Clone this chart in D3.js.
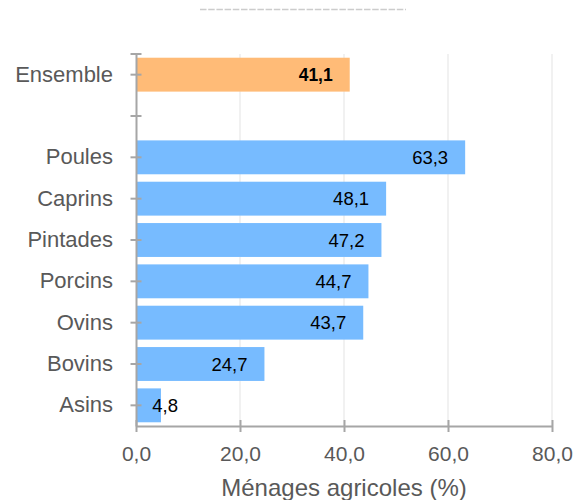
<!DOCTYPE html>
<html>
<head>
<meta charset="utf-8">
<script src="https://cdn.jsdelivr.net/npm/d3@7"></script>
<style>
  html, body { margin: 0; padding: 0; background: #fff; }
  svg { display: block; font-family: "Liberation Sans", Arial, Helvetica, sans-serif; }
</style>
</head>
<body>
<svg id="chart" width="576" height="500"></svg>
<script>
// Categories, top to bottom; the empty entry separates the total from the species.
const categories = ["Ensemble", "", "Poules", "Caprins", "Pintades", "Porcins", "Ovins", "Bovins", "Asins"];
const values = [41.1, null, 63.3, 48.1, 47.2, 44.7, 43.7, 24.7, 4.8];
const valueLabels = ["41,1", "", "63,3", "48,1", "47,2", "44,7", "43,7", "24,7", "4,8"];
const xTicks = [0, 20, 40, 60, 80];
const xTickLabels = ["0,0", "20,0", "40,0", "60,0", "80,0"];
const axisTitle = "Ménages agricoles (%)";

const svg = d3.select("#chart");
const margin = { left: 136, right: 24, top: 54, bottom: 74 };
const W = 576, H = 500;

const x = d3.scaleLinear().domain([0, 80]).range([margin.left, W - margin.right]);
const keys = categories.map((c, i) => i);
const y = d3.scaleBand().domain(keys).range([margin.top, H - margin.bottom])
  .paddingInner(0.18).paddingOuter(0.09);

const axisColor = "#a6a6a6";
const textGray = "#595959";

// Dashed rule above the plot
svg.append("line")
  .attr("x1", 200).attr("x2", 406).attr("y1", 9.5).attr("y2", 9.5)
  .attr("stroke", "#cccccc").attr("stroke-width", 1.6)
  .attr("stroke-dasharray", "6.5,1.7");

// Vertical gridlines
svg.append("g").selectAll("line")
  .data(xTicks.filter(d => d > 0))
  .join("line")
  .attr("x1", d => x(d)).attr("x2", d => x(d))
  .attr("y1", margin.top).attr("y2", H - margin.bottom)
  .attr("stroke", "#ececec").attr("stroke-width", 1.5);

// Bars
const rows = categories.map((c, i) => ({ i, c, v: values[i], label: valueLabels[i] }))
  .filter(d => d.v !== null);

svg.append("g").selectAll("rect")
  .data(rows)
  .join("rect")
  .attr("x", x(0))
  .attr("y", d => y(d.i))
  .attr("width", d => x(d.v) - x(0))
  .attr("height", y.bandwidth())
  .attr("fill", d => d.i === 0 ? "#ffbb77" : "#77bbff");

// Value labels at the end of each bar, kept clear of the axis for short bars
svg.append("g").selectAll("text")
  .data(rows)
  .join("text")
  .attr("x", d => Math.max(x(d.v) - 17, x(0) + 42))
  .attr("y", d => y(d.i) + y.bandwidth() / 2)
  .attr("dy", "0.36em")
  .attr("text-anchor", "end")
  .attr("font-size", d => d.i === 0 ? 17.5 : 18.5)
  .attr("font-weight", d => d.i === 0 ? "bold" : "normal")
  .attr("fill", "#000")
  .text(d => d.label);

// Y axis
const yAxis = d3.axisLeft(y).tickSize(0).tickSizeOuter(0).tickPadding(23)
  .tickFormat(i => categories[i]);
const gy = svg.append("g").attr("transform", `translate(${x(0)},0)`).call(yAxis);
gy.select(".domain").attr("stroke", axisColor).attr("stroke-width", 2);
gy.selectAll(".tick line").attr("x1", -5.5).attr("x2", 5.5)
  .attr("stroke", axisColor).attr("stroke-width", 2);
gy.selectAll(".tick text").attr("font-size", 22).attr("fill", textGray)
  .attr("font-family", "Liberation Sans, Arial, sans-serif");
// Outer tick at the top end of the axis
gy.append("line").attr("x1", -5.5).attr("x2", 5.5)
  .attr("y1", margin.top).attr("y2", margin.top)
  .attr("stroke", axisColor).attr("stroke-width", 2);

// X axis
const xAxis = d3.axisBottom(x).tickValues(xTicks).tickSize(0).tickSizeOuter(0).tickPadding(20)
  .tickFormat((d, i) => xTickLabels[i]);
const gx = svg.append("g").attr("transform", `translate(0,${H - margin.bottom})`).call(xAxis);
gx.select(".domain").attr("stroke", axisColor).attr("stroke-width", 2);
gx.selectAll(".tick line").attr("y1", -6).attr("y2", 6)
  .attr("stroke", axisColor).attr("stroke-width", 2);
gx.selectAll(".tick text").attr("font-size", 21).attr("fill", textGray)
  .attr("font-family", "Liberation Sans, Arial, sans-serif");

// Axis title
svg.append("text")
  .attr("x", (x(0) + x(80)) / 2)
  .attr("y", 496)
  .attr("text-anchor", "middle")
  .attr("font-size", 24)
  .attr("fill", textGray)
  .text(axisTitle);
</script>
</body>
</html>
